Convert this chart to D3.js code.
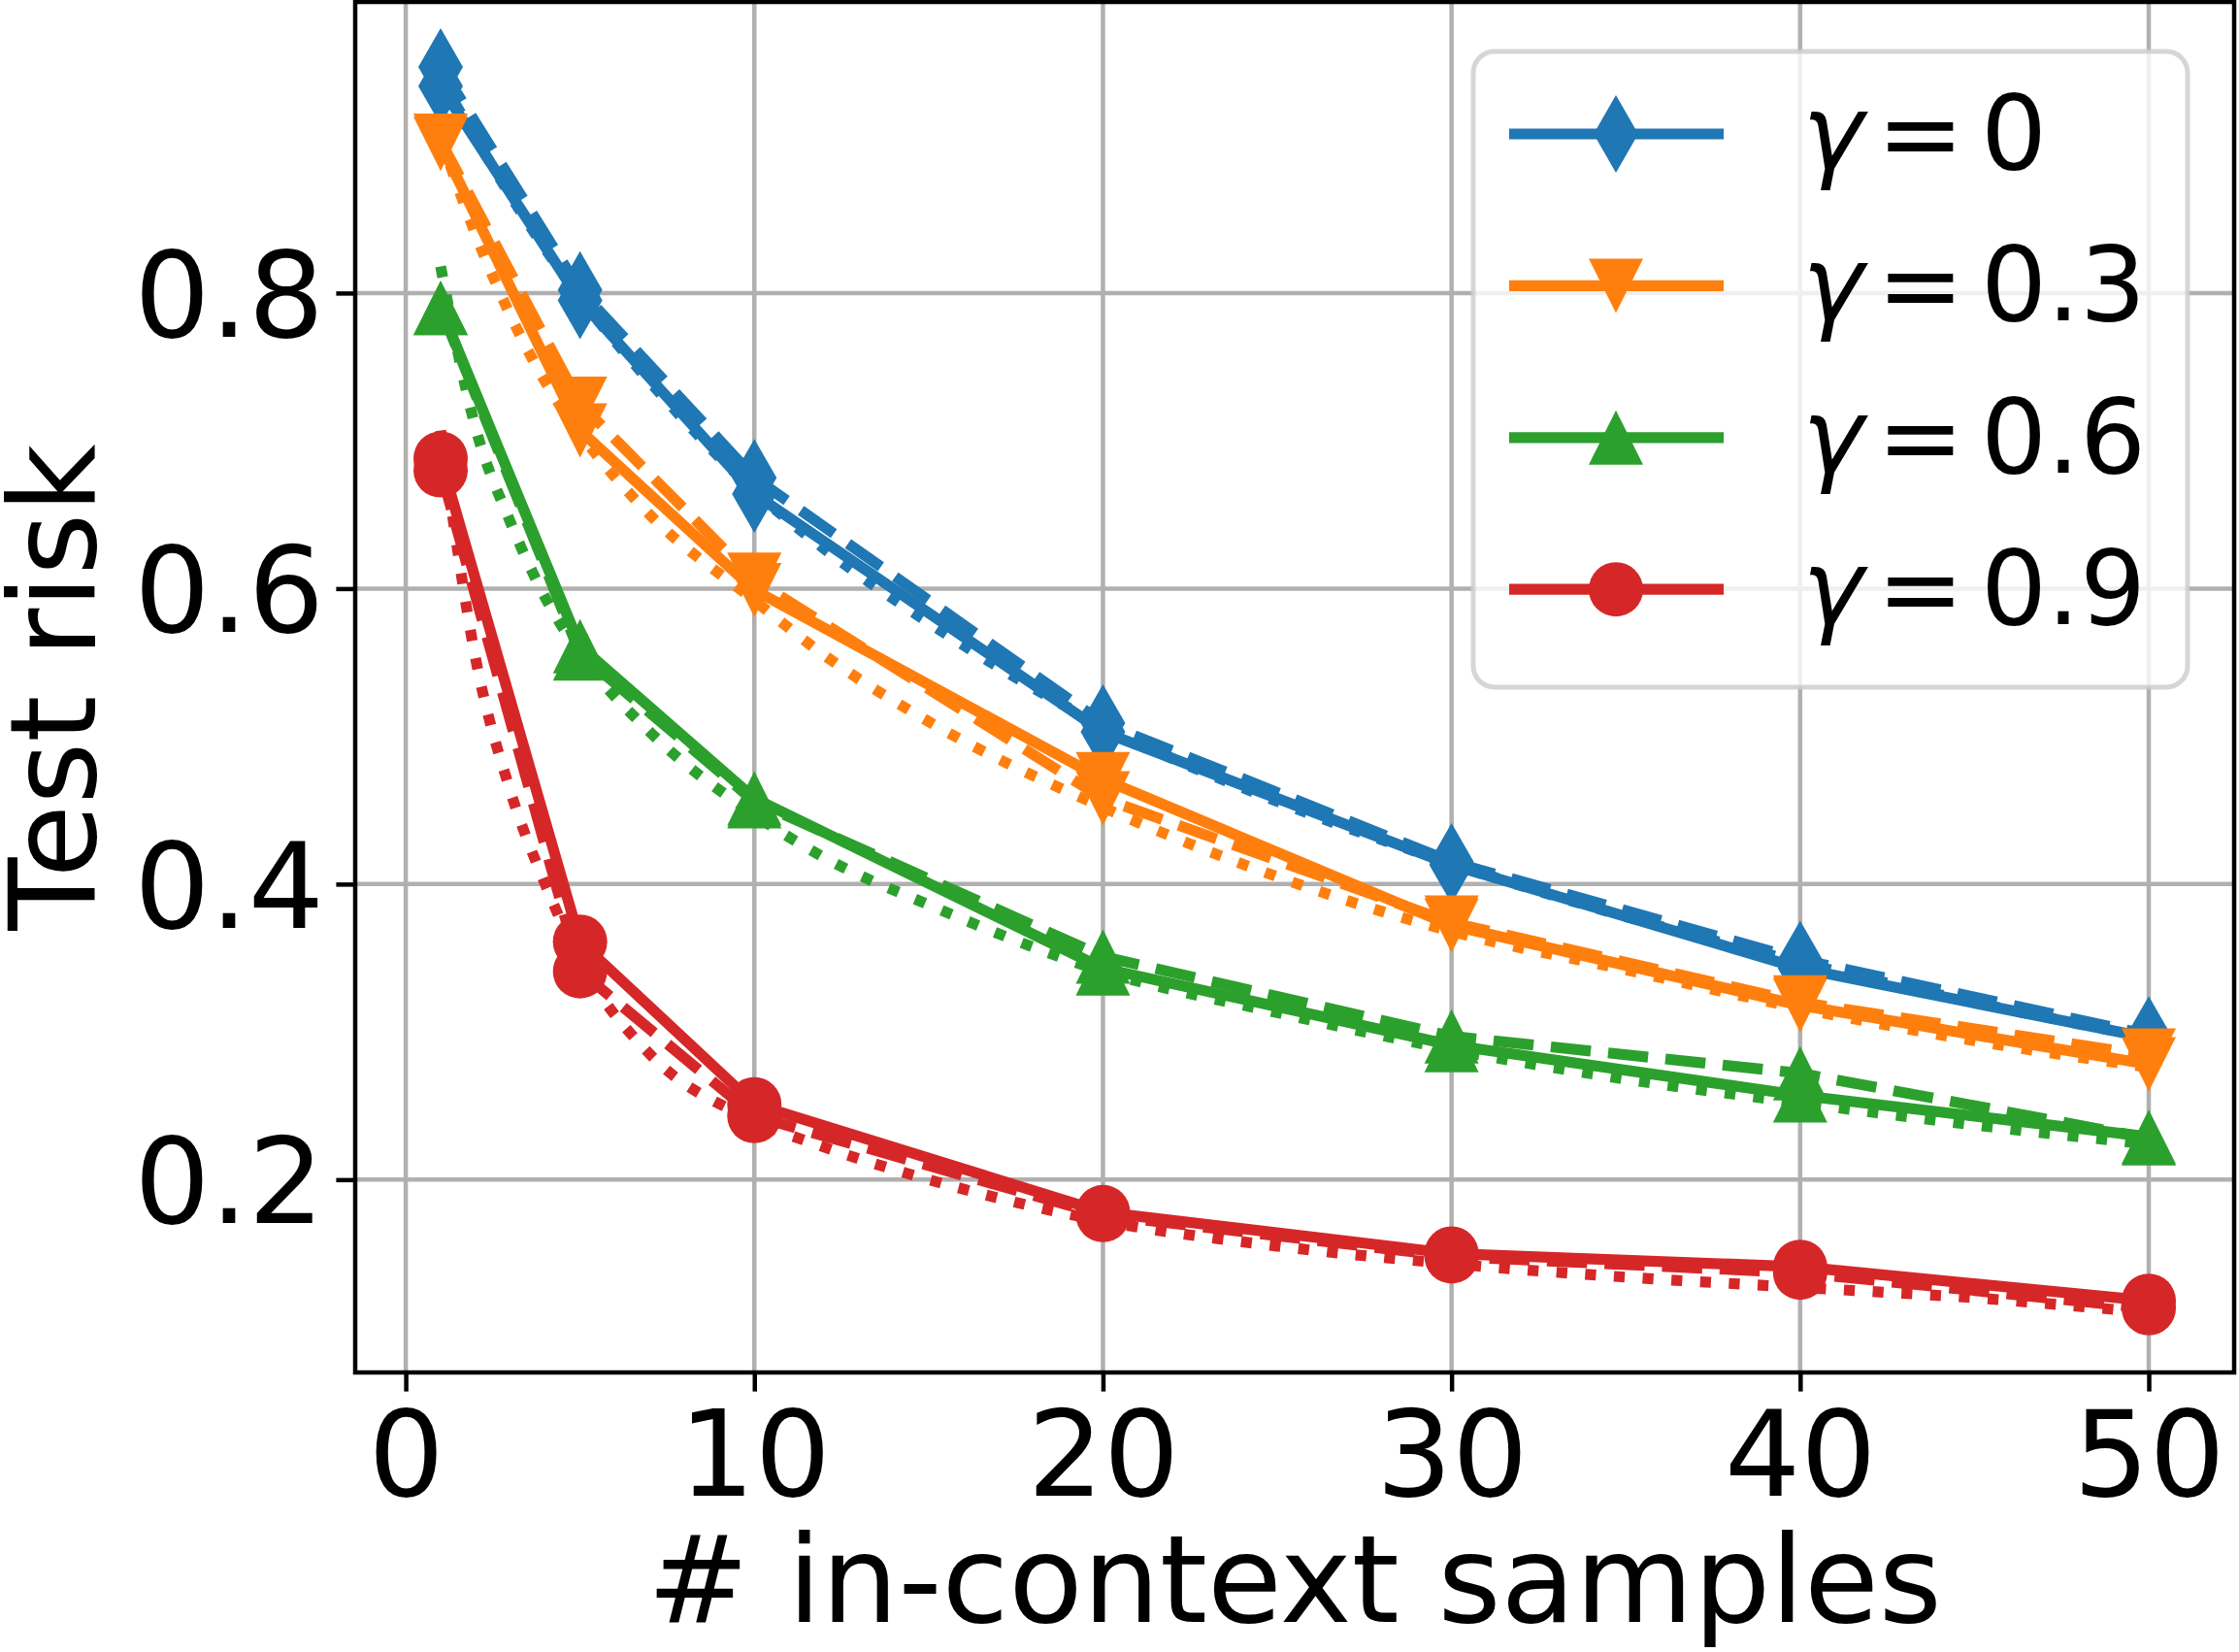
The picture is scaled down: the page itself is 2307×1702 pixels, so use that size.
<!DOCTYPE html>
<html><head><meta charset="utf-8">
<script src="https://cdn.jsdelivr.net/npm/d3@7"></script>
<style>
body{margin:0;background:#fff}
svg{display:block}
text{font-family:"DejaVu Sans",sans-serif;fill:#000}
</style>
</head><body>
<svg id="chart" width="2307" height="1702"></svg>
<script>
// ---------- data ----------
const xSamples = [1, 5, 10, 20, 30, 40, 50];
const xTheory  = [1, 2, 3, 4, 5, 7, 10, 12, 15, 20, 25, 30, 35, 40, 45, 50];
const gammaLabels = ["0", "0.3", "0.6", "0.9"];
const xTicks = [0, 10, 20, 30, 40, 50];
const yTicks = [0.2, 0.4, 0.6, 0.8];

const solidG0  = [0.940, 0.795, 0.664, 0.503, 0.413, 0.343, 0.296];
const dashedG0 = [0.953, 0.802, 0.675, 0.509, 0.415, 0.349, 0.298];
const theoryG0 = [0.945, 0.905, 0.866, 0.830, 0.797, 0.740, 0.666, 0.627, 0.577, 0.507, 0.456, 0.414, 0.378, 0.347, 0.320, 0.296];

const solidG3  = [0.901, 0.707, 0.599, 0.471, 0.372, 0.318, 0.278];
const dashedG3 = [0.903, 0.725, 0.606, 0.458, 0.374, 0.320, 0.284];
const theoryG3 = [0.905, 0.840, 0.785, 0.740, 0.705, 0.650, 0.592, 0.555, 0.510, 0.452, 0.405, 0.368, 0.342, 0.316, 0.294, 0.276];

const solidG6  = [0.790, 0.561, 0.458, 0.343, 0.291, 0.257, 0.229];
const dashedG6 = [0.790, 0.556, 0.456, 0.351, 0.297, 0.272, 0.228];
const theoryG6 = [0.818, 0.709, 0.645, 0.594, 0.556, 0.503, 0.447, 0.418, 0.386, 0.341, 0.313, 0.288, 0.268, 0.252, 0.237, 0.224];

const solidG9  = [0.688, 0.361, 0.251, 0.178, 0.150, 0.141, 0.118];
const dashedG9 = [0.680, 0.341, 0.243, 0.176, 0.148, 0.137, 0.113];
const theoryG9 = [0.707, 0.553, 0.463, 0.400, 0.348, 0.285, 0.240, 0.222, 0.200, 0.172, 0.155, 0.143, 0.134, 0.127, 0.120, 0.110];

const xLabel = "# in-context samples";
const yLabel = "Test risk";

// ---------- styling ----------
const colors = ["#1f77b4", "#ff7f0e", "#2ca02c", "#d62728"];
const markers = ["thin_diamond", "triangle_down", "triangle_up", "circle"];
const series = [
  {solid: solidG0, dashed: dashedG0, theory: theoryG0},
  {solid: solidG3, dashed: dashedG3, theory: theoryG3},
  {solid: solidG6, dashed: dashedG6, theory: theoryG6},
  {solid: solidG9, dashed: dashedG9, theory: theoryG9}
];

const LW = 11.2, MS = 56, FS = 123, LFS = 107;
const plot = {left: 366, right: 2302, top: 2, bottom: 1414};

const svg = d3.select("#chart");
const x = d3.scaleLinear().domain([-1.45, 52.45]).range([plot.left, plot.right]);
const y = d3.scaleLinear().domain([0.0695, 0.997]).range([plot.bottom, plot.top]);

function markerPath(kind) {
  const h = MS / 2;
  if (kind === "thin_diamond") return `M0,${-40} L23,0 L0,40 L-23,0 Z`;
  if (kind === "triangle_down") return `M${-h},${-h} L${h},${-h} L0,${h} Z`;
  if (kind === "triangle_up") return `M0,${-h} L${h},${h} L${-h},${h} Z`;
  return d3.symbol(d3.symbolCircle, Math.PI * h * h)();
}

// grid
const grid = svg.append("g").attr("stroke", "#b0b0b0").attr("stroke-width", 4.5);
grid.selectAll("line.gx").data(xTicks).join("line")
  .attr("x1", d => x(d)).attr("x2", d => x(d)).attr("y1", plot.top).attr("y2", plot.bottom);
grid.selectAll("line.gy").data(yTicks).join("line")
  .attr("x1", plot.left).attr("x2", plot.right).attr("y1", d => y(d)).attr("y2", d => y(d));

// lines
const lineGen = d3.line().x(d => x(d[0])).y(d => y(d[1]));
const curveGen = d3.line().x(d => x(d[0])).y(d => y(d[1])).curve(d3.curveMonotoneX);
const lg = svg.append("g").attr("fill", "none").attr("stroke-linejoin", "round");

series.forEach((s, i) => {
  const c = colors[i];
  const solidPts = xSamples.map((xv, k) => [xv, s.solid[k]]);
  const dashedPts = xSamples.map((xv, k) => [xv, s.dashed[k]]);
  const theoryPts = xTheory.map((xv, k) => [xv, s.theory[k]]);
  lg.append("path").attr("d", lineGen(solidPts)).attr("stroke", c).attr("stroke-width", LW);
  lg.append("g").selectAll("path").data(solidPts).join("path")
    .attr("d", markerPath(markers[i])).attr("fill", c).attr("stroke", "none")
    .attr("transform", d => `translate(${x(d[0])},${y(d[1])})`);
  lg.append("path").attr("d", lineGen(dashedPts)).attr("stroke", c).attr("stroke-width", LW)
    .attr("stroke-dasharray", `${3.7 * LW},${1.6 * LW}`);
  lg.append("g").selectAll("path").data(dashedPts).join("path")
    .attr("d", markerPath(markers[i])).attr("fill", c).attr("stroke", "none")
    .attr("transform", d => `translate(${x(d[0])},${y(d[1])})`);
  lg.append("path").attr("d", curveGen(theoryPts)).attr("stroke", c).attr("stroke-width", LW)
    .attr("stroke-dasharray", `${1 * LW},${1.65 * LW}`);
});

// spines
svg.append("rect").attr("x", plot.left).attr("y", plot.top)
  .attr("width", plot.right - plot.left).attr("height", plot.bottom - plot.top)
  .attr("fill", "none").attr("stroke", "#000").attr("stroke-width", 4.5);

// axes
const xAxis = svg.append("g").attr("transform", `translate(0,${plot.bottom})`)
  .call(d3.axisBottom(x).tickValues(xTicks).tickFormat(d3.format("d")).tickSize(19.6).tickPadding(19.6));
const yAxis = svg.append("g").attr("transform", `translate(${plot.left},0)`)
  .call(d3.axisLeft(y).tickValues(yTicks).tickFormat(d3.format(".1f")).tickSize(19.6).tickPadding(12.5));
[xAxis, yAxis].forEach(a => {
  a.select(".domain").remove();
  a.selectAll(".tick line").attr("stroke", "#000").attr("stroke-width", 4.5);
  a.selectAll(".tick text").attr("font-size", FS).attr("font-family", "DejaVu Sans").attr("fill", "#000");
});
yAxis.selectAll(".tick text").attr("dy", "0.36em");

svg.append("text").attr("x", (plot.left + plot.right) / 2).attr("y", 1671)
  .attr("text-anchor", "middle").attr("font-size", 125).text(xLabel);
svg.append("text").attr("transform", `translate(98,${(plot.top + plot.bottom) / 2}) rotate(-90)`)
  .attr("text-anchor", "middle").attr("font-size", FS).text(yLabel);

// legend
const leg = svg.append("g");
leg.append("rect").attr("x", 1518).attr("y", 53).attr("width", 736).attr("height", 655)
  .attr("rx", 22).attr("ry", 22).attr("fill", "rgba(255,255,255,0.8)")
  .attr("stroke", "rgba(204,204,204,0.8)").attr("stroke-width", 5);
gammaLabels.forEach((lab, i) => {
  const cy = 138 + i * 156.4;
  leg.append("line").attr("x1", 1555).attr("x2", 1776).attr("y1", cy).attr("y2", cy)
    .attr("stroke", colors[i]).attr("stroke-width", LW);
  leg.append("path").attr("d", markerPath(markers[i])).attr("fill", colors[i])
    .attr("transform", `translate(1665,${cy})`);
  const t = leg.append("text").attr("y", cy + 36).attr("font-size", LFS);
  t.append("tspan").attr("x", 1857).attr("font-style", "italic").text("γ");
  t.append("tspan").attr("x", 1934).text("=");
  t.append("tspan").attr("x", 2041).text(lab);
});
</script>
</body></html>
